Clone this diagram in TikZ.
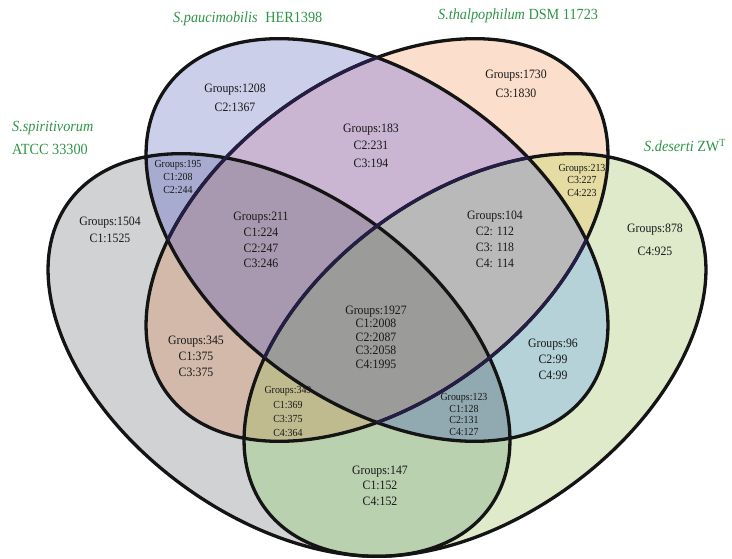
\documentclass[tikz,border=0pt]{standalone}
\usepackage{fontspec}
\setmainfont{Liberation Serif}[FakeStretch=0.92]
% region colours
\definecolor{cA}{HTML}{D1D2D4}
\definecolor{cB}{HTML}{CBCFE9}
\definecolor{cC}{HTML}{FBDECB}
\definecolor{cD}{HTML}{DFEACB}
\definecolor{cAB}{HTML}{A7ABCF}
\definecolor{cAC}{HTML}{D3B9A9}
\definecolor{cAD}{HTML}{B9D1AE}
\definecolor{cBC}{HTML}{CAB5D3}
\definecolor{cBD}{HTML}{B4D2D8}
\definecolor{cCD}{HTML}{E4DCA3}
\definecolor{cABC}{HTML}{A899B0}
\definecolor{cABD}{HTML}{91A9B1}
\definecolor{cACD}{HTML}{C0BB8F}
\definecolor{cBCD}{HTML}{B9B9B9}
\definecolor{cABCD}{HTML}{9B9C9A}
\definecolor{navyrim}{HTML}{241E45}
\definecolor{strgreen}{HTML}{2E9445}
\begin{document}
\begin{tikzpicture}[x=1pt, y=1pt, line join=round, line cap=round,
  lbl/.style={align=center, text=black!90, font=\fontsize{12.8}{#1}\selectfont},
  lbl/.default=16,
  lblsmall/.style={align=center, text=black!90, font=\fontsize{10.8}{#1}\selectfont},
  lblsmall/.default=13,
  strain/.style={anchor=base west, inner sep=0pt, text=strgreen, font=\fontsize{15.5}{18}\selectfont},
  rim/.style={line width=3.3pt, draw=black!92}]
\useasboundingbox (0,0) rectangle (732,558);
% Bốn elip bằng nhau, nghiêng 36 độ
\def\ra{260pt} % bán trục lớn
\def\rb{162pt} % bán trục nhỏ
\def\tilt{36}
\def\setA{[rotate around={-\tilt:(279,203)}] (279,203) ellipse [x radius=\ra, y radius=\rb]}
\def\setB{[rotate around={-\tilt:(377,318)}] (377,318) ellipse [x radius=\ra, y radius=\rb]}
\def\setC{[rotate around={\tilt:(377,318)}] (377,318) ellipse [x radius=\ra, y radius=\rb]}
\def\setD{[rotate around={\tilt:(475,203)}] (475,203) ellipse [x radius=\ra, y radius=\rb]}

% --- Từng tập ---
\fill[cA] \setA;
\fill[cB] \setB;
\fill[cC] \setC;
\fill[cD] \setD;
% --- Giao hai tập ---
\begin{scope} \clip \setA; \fill[cAB] \setB; \fill[cAC] \setC; \fill[cAD] \setD; \end{scope}
\begin{scope} \clip \setB; \fill[cBC] \setC; \fill[cBD] \setD; \end{scope}
\begin{scope} \clip \setC; \fill[cCD] \setD; \end{scope}
% --- Giao ba tập ---
\begin{scope} \clip \setA; \clip \setB; \fill[cABC] \setC; \fill[cABD] \setD; \end{scope}
\begin{scope} \clip \setA; \clip \setC; \fill[cACD] \setD; \end{scope}
\begin{scope} \clip \setB; \clip \setC; \fill[cBCD] \setD; \end{scope}
% --- Giao bốn tập ---
\begin{scope} \clip \setA; \clip \setB; \clip \setC; \fill[cABCD] \setD; \end{scope}

% --- Đường biên ---
\draw[rim] \setA;
\draw[rim] \setC;
\draw[rim] \setD;
\draw[rim] \setB;
\begin{scope} \clip \setB; \draw[rim, draw=navyrim] \setC; \draw[rim, draw=navyrim] \setD; \end{scope}

% --- Tên chủng ---
\node[strain] (spau) at (173,535) {\textit{S.paucimobilis}\enspace HER1398};
\node[strain] (stha) at (438,538) {\textit{S.thalpophilum} DSM 11723};
\node[strain] (sspi) at (12,426) {\textit{S.spiritivorum}};
\node[strain] (satcc) at (12,403) {ATCC 33300};
\node[strain] (sdes) at (644,406) {\textit{S.deserti} ZW\textsuperscript{T}};

% --- Số nhóm ---
\node[lbl=19] (g1208) at (235,460.5) {Groups:1208\\C2:1367};
\node[lbl=19] (g1730) at (516,474.5) {Groups:1730\\C3:1830};
\node[lbl=17.5] (g183) at (371,412.3) {Groups:183\\C2:231\\C3:194};
\node[lblsmall] (g195) at (178,381) {Groups:195\\C1:208\\C2:244};
\node[lblsmall=12.5] (g213) at (582,377.7) {Groups:213\\C3:227\\C4:223};
\node[lbl=17] (g1504) at (110,328.5) {Groups:1504\\C1:1525};
\node[lbl=15.7] (g211) at (261,317.7) {Groups:211\\C1:224\\C2:247\\C3:246};
\node[lbl=16] (g104) at (495,318.2) {Groups:104\\C2: 112\\C3: 118\\C4: 114};
\node[lbl=23] (g878) at (655,318.5) {Groups:878\\C4:925};
\node[lbl=13.5] (g1927) at (376,221) {Groups:1927\\C1:2008\\C2:2087\\C3:2058\\C4:1995};
\node[lbl=16] (g345) at (196,202) {Groups:345\\C1:375\\C3:375};
\node[lbl=16] (g96) at (553,199) {Groups:96\\C2:99\\C4:99};
\node[lblsmall=14.3] (g349) at (288,146.2) {Groups:349\\C1:369\\C3:375\\C4:364};
\node[lblsmall=11.7] (g123) at (464,143.5) {Groups:123\\C1:128\\C2:131\\C4:127};
\node[lbl=15.5] (g147) at (380,72.3) {Groups:147\\C1:152\\C4:152};
\end{tikzpicture}
\end{document}
